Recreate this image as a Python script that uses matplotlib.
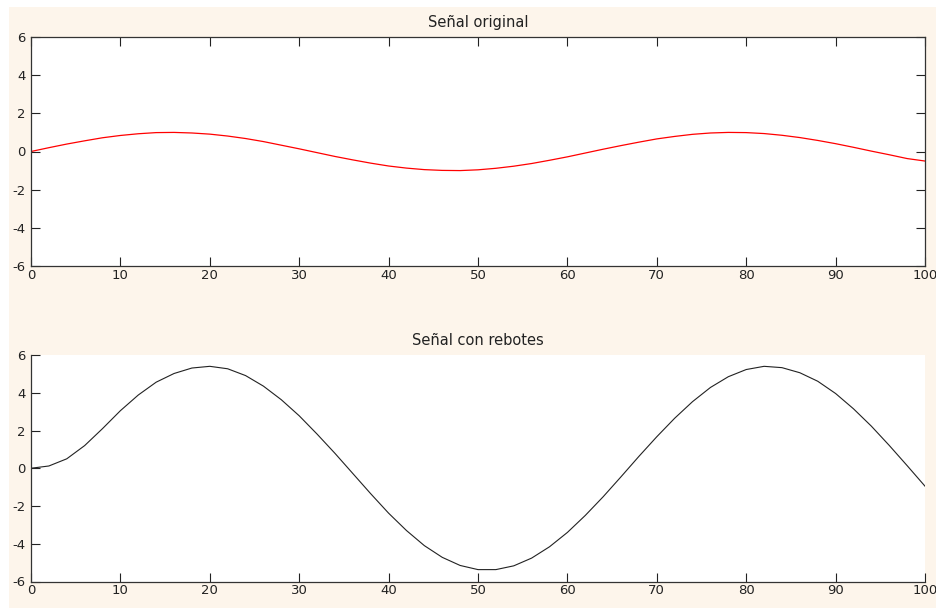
import matplotlib
matplotlib.use("Agg")
import matplotlib.pyplot as plt
from matplotlib.patches import Rectangle

plt.rcParams["font.family"] = ["DejaVu Sans"]
plt.rcParams["font.size"] = 10

# muestras (cada 2 unidades)
t = list(range(0, 101, 2))

senal_original = [
    0.00, 0.20, 0.39, 0.56, 0.72, 0.84, 0.93, 0.99, 1.00, 0.97,
    0.91, 0.81, 0.68, 0.52, 0.33, 0.14, -0.06, -0.26, -0.44, -0.61,
    -0.76, -0.87, -0.95, -0.99, -1.00, -0.96, -0.88, -0.77, -0.63, -0.46,
    -0.28, -0.08, 0.12, 0.31, 0.49, 0.66, 0.79, 0.90, 0.97, 1.00,
    0.99, 0.94, 0.85, 0.73, 0.58, 0.41, 0.22, 0.02, -0.17, -0.37,
    -0.50,
]

senal_rebotes = [
    0.00, 0.12, 0.50, 1.20, 2.10, 3.05, 3.88, 4.56, 5.02, 5.31,
    5.40, 5.27, 4.91, 4.35, 3.63, 2.78, 1.81, 0.79, -0.28, -1.35,
    -2.38, -3.30, -4.10, -4.72, -5.15, -5.37, -5.37, -5.17, -4.76, -4.16,
    -3.40, -2.50, -1.51, -0.45, 0.63, 1.67, 2.65, 3.53, 4.28, 4.85,
    5.23, 5.40, 5.33, 5.06, 4.61, 3.96, 3.15, 2.23, 1.21, 0.14,
    -0.95,
]

xticks = list(range(0, 101, 10))
yticks = [-6, -4, -2, 0, 2, 4, 6]

W, H = 936, 608
fig = plt.figure(figsize=(W / 100, H / 100), dpi=100)
fig.patch.set_facecolor("white")
fig.patches.append(Rectangle((9 / W, 0), 1, 1 - 7 / H, transform=fig.transFigure,
                             facecolor="#fdf5eb", edgecolor="none", zorder=-10))


def ejes(rect, titulo, caja):
    ax = fig.add_axes(rect)
    ax.set_facecolor("white")
    ax.set_xlim(0, 100)
    ax.set_ylim(-6, 6)
    ax.set_xticks(xticks)
    ax.set_yticks(yticks)
    ax.set_yticklabels([str(v) for v in yticks])
    ax.tick_params(direction="in", length=6.5, width=0.8, color="#222222",
                   labelsize=9.5, labelcolor="#222222",
                   top=caja, right=caja)
    ax.tick_params(axis="x", pad=2)
    ax.tick_params(axis="y", pad=4)
    for lado, sp in ax.spines.items():
        sp.set_linewidth(0.9)
        sp.set_color("#333333")
    if not caja:
        ax.spines["top"].set_visible(False)
        ax.spines["right"].set_visible(False)
    ax.set_title(titulo, fontsize=10.5, pad=7, color="#222222")
    return ax


ax1 = ejes([31 / W, 1 - 266 / H, 894 / W, 229 / H], "Señal original", True)
ax1.plot(t, senal_original, color="#ff0000", linewidth=0.9)

ax2 = ejes([31 / W, 1 - 581.5 / H, 894 / W, 226.5 / H], "Señal con rebotes", False)
ax2.plot(t, senal_rebotes, color="#222222", linewidth=0.8)

fig.savefig("out.png", dpi=100)
